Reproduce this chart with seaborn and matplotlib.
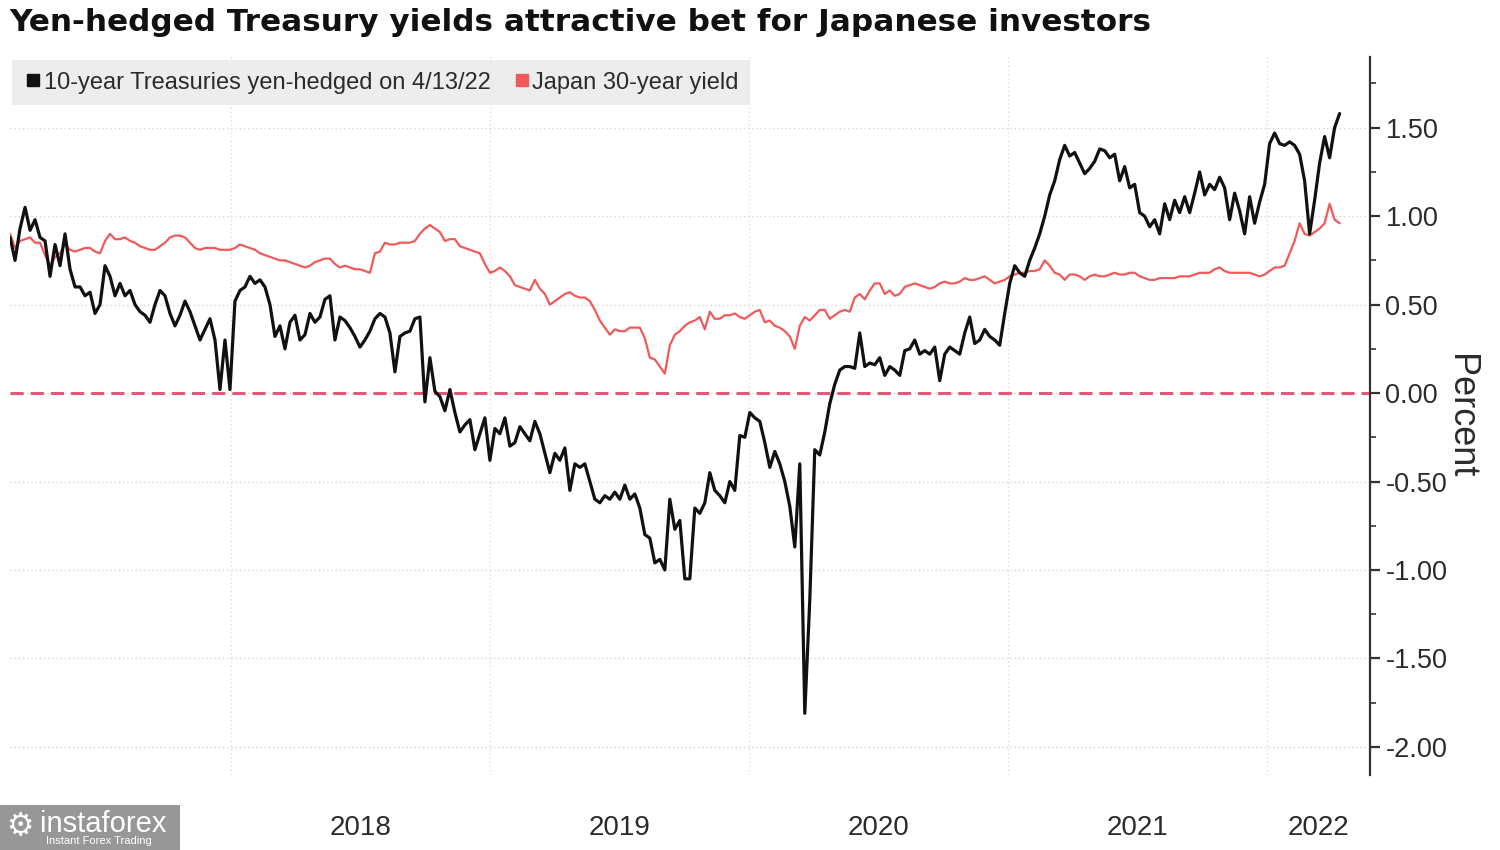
"""Yen-hedged Treasury yields vs Japan 30-year yield."""

import matplotlib
matplotlib.use("Agg")
import matplotlib.pyplot as plt
import numpy as np
import pandas as pd
import seaborn as sns
from matplotlib.lines import Line2D
from matplotlib.patches import Rectangle

# ── data (evenly spaced in time) ─────────────────────────────────
START, END = "2017-02-23", "2022-04-13"
X_MIN, X_MAX = "2017-02-23", "2022-05-26"

hedged_10y = [
    0.88, 0.75, 0.93, 1.05, 0.92, 0.98, 0.88, 0.86, 0.66, 0.84, 0.72, 0.90, 0.70, 0.60, 0.60, 0.55, 0.57, 0.45, 0.50, 0.72,
    0.66, 0.55, 0.62, 0.55, 0.58, 0.50, 0.46, 0.44, 0.40, 0.50, 0.58, 0.55, 0.45, 0.38, 0.44, 0.52, 0.46, 0.38, 0.30, 0.36,
    0.42, 0.30, 0.02, 0.30, 0.02, 0.52, 0.58, 0.60, 0.66, 0.62, 0.64, 0.60, 0.50, 0.32, 0.38, 0.25, 0.40, 0.44, 0.30, 0.33,
    0.45, 0.40, 0.43, 0.53, 0.55, 0.30, 0.43, 0.41, 0.37, 0.32, 0.26, 0.30, 0.35, 0.42, 0.45, 0.43, 0.34, 0.12, 0.32, 0.34,
    0.35, 0.42, 0.43, -0.05, 0.20, 0.01, -0.02, -0.10, 0.02, -0.11, -0.22, -0.18, -0.15, -0.32, -0.23, -0.14, -0.38, -0.20, -0.23, -0.14,
    -0.30, -0.28, -0.19, -0.23, -0.27, -0.16, -0.23, -0.34, -0.45, -0.34, -0.38, -0.31, -0.55, -0.40, -0.42, -0.40, -0.50, -0.60, -0.62, -0.58,
    -0.60, -0.56, -0.60, -0.52, -0.60, -0.57, -0.65, -0.80, -0.82, -0.96, -0.94, -1.00, -0.60, -0.77, -0.72, -1.05, -1.05, -0.65, -0.68, -0.62,
    -0.45, -0.55, -0.58, -0.62, -0.50, -0.55, -0.24, -0.25, -0.11, -0.14, -0.16, -0.28, -0.42, -0.33, -0.40, -0.50, -0.64, -0.87, -0.40, -1.81,
    -1.17, -0.32, -0.35, -0.22, -0.06, 0.05, 0.13, 0.15, 0.15, 0.14, 0.34, 0.15, 0.17, 0.16, 0.20, 0.10, 0.15, 0.13, 0.10, 0.24,
    0.25, 0.30, 0.22, 0.24, 0.22, 0.26, 0.07, 0.22, 0.26, 0.24, 0.22, 0.34, 0.43, 0.28, 0.30, 0.36, 0.32, 0.30, 0.27, 0.45,
    0.62, 0.72, 0.68, 0.66, 0.75, 0.82, 0.90, 1.00, 1.12, 1.20, 1.32, 1.40, 1.34, 1.36, 1.30, 1.24, 1.27, 1.31, 1.38, 1.37,
    1.33, 1.35, 1.20, 1.28, 1.16, 1.18, 1.02, 1.00, 0.94, 0.98, 0.90, 1.07, 0.98, 1.09, 1.02, 1.11, 1.02, 1.13, 1.25, 1.12,
    1.18, 1.15, 1.22, 1.16, 0.98, 1.13, 1.03, 0.90, 1.11, 0.96, 1.08, 1.18, 1.41, 1.47, 1.41, 1.40, 1.42, 1.40, 1.35, 1.20,
    0.90, 1.09, 1.30, 1.45, 1.33, 1.50, 1.58,
]

japan_30y = [
    0.90, 0.82, 0.86, 0.87, 0.88, 0.85, 0.85, 0.78, 0.72, 0.77, 0.79, 0.84, 0.81, 0.80, 0.81, 0.82, 0.82, 0.80, 0.79, 0.86,
    0.90, 0.87, 0.87, 0.88, 0.86, 0.85, 0.83, 0.82, 0.81, 0.81, 0.83, 0.85, 0.88, 0.89, 0.89, 0.88, 0.85, 0.82, 0.81, 0.82,
    0.82, 0.82, 0.81, 0.81, 0.81, 0.82, 0.84, 0.83, 0.82, 0.81, 0.79, 0.78, 0.77, 0.76, 0.75, 0.75, 0.74, 0.73, 0.72, 0.71,
    0.72, 0.74, 0.75, 0.76, 0.76, 0.73, 0.71, 0.72, 0.71, 0.70, 0.70, 0.69, 0.68, 0.79, 0.80, 0.85, 0.84, 0.84, 0.85, 0.85,
    0.85, 0.86, 0.90, 0.93, 0.95, 0.93, 0.91, 0.86, 0.87, 0.87, 0.83, 0.82, 0.81, 0.80, 0.79, 0.73, 0.68, 0.69, 0.71, 0.69,
    0.66, 0.61, 0.60, 0.59, 0.58, 0.64, 0.59, 0.56, 0.50, 0.52, 0.54, 0.56, 0.57, 0.55, 0.54, 0.54, 0.52, 0.47, 0.41, 0.37,
    0.33, 0.36, 0.35, 0.35, 0.37, 0.37, 0.37, 0.31, 0.20, 0.19, 0.15, 0.11, 0.27, 0.33, 0.35, 0.38, 0.40, 0.41, 0.43, 0.36,
    0.46, 0.42, 0.42, 0.44, 0.44, 0.45, 0.43, 0.42, 0.44, 0.46, 0.47, 0.40, 0.41, 0.38, 0.37, 0.35, 0.32, 0.25, 0.38, 0.43,
    0.41, 0.44, 0.47, 0.47, 0.42, 0.44, 0.46, 0.47, 0.46, 0.54, 0.56, 0.53, 0.58, 0.62, 0.62, 0.56, 0.58, 0.55, 0.56, 0.60,
    0.61, 0.62, 0.61, 0.60, 0.59, 0.60, 0.62, 0.63, 0.62, 0.62, 0.63, 0.65, 0.64, 0.64, 0.65, 0.66, 0.64, 0.62, 0.63, 0.64,
    0.66, 0.67, 0.68, 0.68, 0.69, 0.69, 0.70, 0.75, 0.72, 0.68, 0.67, 0.64, 0.67, 0.67, 0.66, 0.64, 0.66, 0.67, 0.66, 0.66,
    0.67, 0.68, 0.67, 0.67, 0.68, 0.68, 0.66, 0.65, 0.64, 0.64, 0.65, 0.65, 0.65, 0.65, 0.66, 0.66, 0.66, 0.67, 0.68, 0.68,
    0.68, 0.70, 0.71, 0.69, 0.68, 0.68, 0.68, 0.68, 0.68, 0.67, 0.66, 0.67, 0.69, 0.71, 0.71, 0.72, 0.79, 0.86, 0.96, 0.90,
    0.89, 0.91, 0.93, 0.96, 1.07, 0.98, 0.96,
]

year_labels = ["2018", "2019", "2020", "2021", "2022"]
y_ticks = [-2.0, -1.5, -1.0, -0.5, 0.0, 0.5, 1.0, 1.5]

TITLE = "Yen-hedged Treasury yields attractive bet for Japanese investors"
LABEL_HEDGED = "10-year Treasuries yen-hedged on 4/13/22"
LABEL_JGB = "Japan 30-year yield"

BLACK = "#111111"
RED = "#f05a5a"
ZERO_PINK = "#e35a78"
TEXT = "#2b2b2b"

# ── style ─────────────────────────────────────────────────────
sns.set_theme(style="white")
plt.rcParams["font.family"] = ["Liberation Sans", "DejaVu Sans"]

dates = pd.date_range(START, END, periods=len(hedged_10y))
df = pd.DataFrame({"date": dates, "hedged": hedged_10y, "jgb": japan_30y})

fig = plt.figure(figsize=(15, 8.5), dpi=100)
ax = fig.add_axes([0.0067, 0.088, 0.9067, 0.845])

# grid
year_starts = pd.to_datetime([f"{y}-01-01" for y in year_labels])
for d in year_starts:
    ax.axvline(d, color="#dcdcdc", lw=1, ls=(0, (1, 2)), zorder=0)
for v in y_ticks:
    ax.axhline(v, color="#d6d6d6", lw=1, ls=(0, (1, 2)), zorder=0)
ax.axhline(0, color=ZERO_PINK, lw=2.2, ls=(0, (4.3, 2.3)), zorder=1)

sns.lineplot(data=df, x="date", y="jgb", color=RED, lw=1.6, ax=ax, zorder=2)
sns.lineplot(data=df, x="date", y="hedged", color=BLACK, lw=2.3, ax=ax, zorder=3)

ax.set_xlim(pd.Timestamp(X_MIN), pd.Timestamp(X_MAX))
ax.set_ylim(-2.16, 1.90)

# y axis on the right
ax.yaxis.tick_right()
ax.yaxis.set_label_position("right")
ax.set_yticks(y_ticks)
ax.set_yticklabels([f"{v:.2f}" for v in y_ticks], fontsize=19.5, color=TEXT)
ax.set_yticks(list(np.array(y_ticks[:-1]) + 0.25) + [1.75], minor=True)
ax.tick_params(axis="y", which="major", direction="out", length=7, width=1.6,
               color="#333333", pad=4, right=True, left=False)
ax.tick_params(axis="y", which="minor", direction="out", length=4, width=1.2,
               color="#333333", right=True, left=False)
ax.set_ylabel("Percent", fontsize=26, color=TEXT, rotation=270, labelpad=22)

# x axis: year labels centred in each year
x_end = pd.Timestamp(X_MAX)
label_pos = [d + (min(d + pd.DateOffset(years=1), x_end) - d) / 2 for d in year_starts]
ax.set_xticks(year_starts)
ax.set_xticklabels([])
ax.set_xticks(label_pos, minor=True)
ax.set_xticklabels(year_labels, minor=True, fontsize=20, color=TEXT)
ax.tick_params(axis="x", which="both", length=0, pad=29)
ax.set_xlabel("")

for side in ("left", "top", "bottom"):
    ax.spines[side].set_visible(False)
ax.spines["right"].set_color("#333333")
ax.spines["right"].set_linewidth(1.6)

# legend
handles = [
    Line2D([], [], marker="s", ls="none", color=BLACK, markersize=9),
    Line2D([], [], marker="s", ls="none", color=RED, markersize=9),
]
leg = ax.legend(handles, [LABEL_HEDGED, LABEL_JGB], loc="upper left",
                bbox_to_anchor=(0.0015, 0.996), borderaxespad=0, ncol=2, frameon=True,
                facecolor="#ebebeb", edgecolor="none", fancybox=False,
                framealpha=0.9, fontsize=17, handletextpad=0.05,
                columnspacing=0.9, borderpad=0.5, handlelength=0.8)
for t in leg.get_texts():
    t.set_color(TEXT)

fig.text(0.006, 0.974, TITLE, fontsize=22.4, fontweight="bold", color="#111111",
         va="center", ha="left", family="DejaVu Sans")

# watermark
fig.patches.append(Rectangle((0.0, 0.0), 0.12, 0.053, transform=fig.transFigure,
                             facecolor="#8c8c8c", edgecolor="none", alpha=0.9))
fig.text(0.004, 0.028, "\u2699", fontsize=22, color="white", va="center", family="DejaVu Sans")
fig.text(0.027, 0.031, "instaforex", fontsize=21, color="white", va="center")
fig.text(0.031, 0.011, "Instant Forex Trading", fontsize=8, color="white", va="center")

fig.savefig("out.png", dpi=100, facecolor="white")
plt.close(fig)
